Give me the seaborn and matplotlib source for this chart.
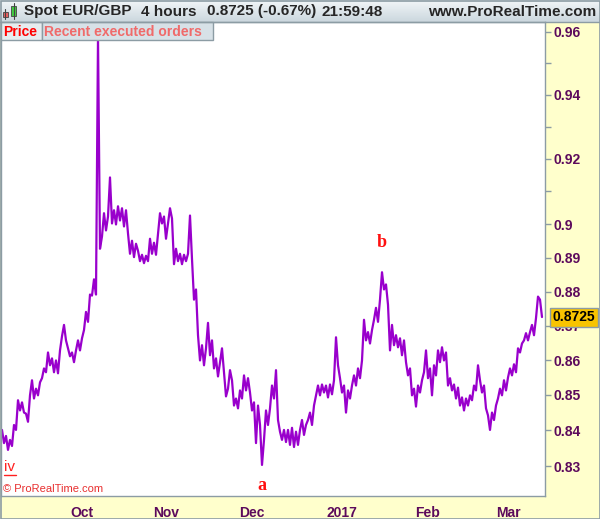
import numpy as np
import pandas as pd
import matplotlib
matplotlib.use("Agg")
import matplotlib.pyplot as plt
from matplotlib.patches import Rectangle
from matplotlib.colors import LinearSegmentedColormap
from matplotlib.ticker import FixedLocator, FixedFormatter, NullFormatter
import seaborn as sns

# ---- data: EUR/GBP 4h, sampled every half trading day (alternating highs / lows) ----
prices = [
    0.8401, 0.8364, 0.8384, 0.8345, 0.8373, 0.8356, 0.8415, 0.8401, 0.8485, 0.8456,
    0.8479, 0.8450, 0.8447, 0.8424, 0.8499, 0.8542, 0.8490, 0.8518, 0.8499, 0.8536,
    0.8548, 0.8576, 0.8565, 0.8622, 0.8585, 0.8605, 0.8565, 0.8599, 0.8562, 0.8628,
    0.8669, 0.8702, 0.8657, 0.8634, 0.8611, 0.8622, 0.8594, 0.8628, 0.8657, 0.8628,
    0.8663, 0.8687, 0.8740, 0.8711, 0.8791, 0.8788, 0.8836, 0.8791, 0.9583, 0.8927,
    0.8964, 0.9034, 0.8982, 0.9024, 0.9143, 0.9003, 0.9043, 0.9000, 0.9055, 0.9012,
    0.9049, 0.8994, 0.9043, 0.8973, 0.8912, 0.8951, 0.8902, 0.8942, 0.8921, 0.8890,
    0.8909, 0.8884, 0.8906, 0.8890, 0.8957, 0.8912, 0.8945, 0.8909, 0.8973, 0.9034,
    0.9003, 0.9024, 0.8957, 0.9003, 0.9049, 0.9018, 0.8881, 0.8927, 0.8890, 0.8912,
    0.8881, 0.8909, 0.8890, 0.8912, 0.9027, 0.8896, 0.8776, 0.8806, 0.8672, 0.8599,
    0.8643, 0.8585, 0.8634, 0.8708, 0.8614, 0.8657, 0.8576, 0.8605, 0.8553, 0.8594,
    0.8634, 0.8565, 0.8496, 0.8518, 0.8571, 0.8542, 0.8470, 0.8490, 0.8462, 0.8513,
    0.8490, 0.8556, 0.8513, 0.8548, 0.8507, 0.8456, 0.8479, 0.8364, 0.8470, 0.8415,
    0.8303, 0.8373, 0.8456, 0.8415, 0.8462, 0.8527, 0.8490, 0.8571, 0.8429, 0.8396,
    0.8373, 0.8401, 0.8367, 0.8401, 0.8359, 0.8407, 0.8353, 0.8396, 0.8359, 0.8401,
    0.8429, 0.8387, 0.8415, 0.8429, 0.8450, 0.8415, 0.8470, 0.8499, 0.8527, 0.8499,
    0.8530, 0.8507, 0.8527, 0.8493, 0.8530, 0.8502, 0.8542, 0.8666, 0.8585, 0.8548,
    0.8507, 0.8527, 0.8450, 0.8513, 0.8490, 0.8527, 0.8556, 0.8527, 0.8576, 0.8548,
    0.8599, 0.8717, 0.8657, 0.8681, 0.8648, 0.8687, 0.8717, 0.8752, 0.8711, 0.8776,
    0.8857, 0.8806, 0.8821, 0.8761, 0.8628, 0.8702, 0.8643, 0.8672, 0.8637, 0.8663,
    0.8614, 0.8657, 0.8594, 0.8556, 0.8576, 0.8499, 0.8518, 0.8467, 0.8527, 0.8507,
    0.8542, 0.8565, 0.8628, 0.8548, 0.8576, 0.8499, 0.8585, 0.8556, 0.8628, 0.8594,
    0.8637, 0.8599, 0.8622, 0.8527, 0.8548, 0.8513, 0.8530, 0.8490, 0.8521, 0.8470,
    0.8493, 0.8456, 0.8490, 0.8470, 0.8499, 0.8485, 0.8527, 0.8513, 0.8585, 0.8542,
    0.8507, 0.8527, 0.8462, 0.8442, 0.8401, 0.8450, 0.8429, 0.8470, 0.8490, 0.8518,
    0.8499, 0.8542, 0.8513, 0.8550, 0.8576, 0.8556, 0.8588, 0.8565, 0.8634, 0.8622,
    0.8648, 0.8657, 0.8678, 0.8657, 0.8681, 0.8702, 0.8672, 0.8722, 0.8785, 0.8776,
    0.8725,
]
month_pos = [40, 82, 125, 170, 213, 253]
month_labels = ["Oct", "Nov", "Dec", "2017", "Feb", "Mar"]
ytick_vals = [0.83, 0.84, 0.85, 0.86, 0.87, 0.88, 0.89, 0.9, 0.92, 0.94, 0.96]
ytick_labels = ["0.83", "0.84", "0.85", "0.86", "0.87", "0.88", "0.89", "0.9", "0.92", "0.94", "0.96"]
yminor_vals = [0.91, 0.93, 0.95]
last_price = 0.8725
wave_labels = ["a", "b"]
wave_x = [130, 190]
wave_y = [0.8247, 0.8947]

df = pd.DataFrame({"bar": np.arange(len(prices)), "price": prices})

# ---- style ----
sns.set_style("white")
plt.rcParams["font.family"] = ["Liberation Sans", "DejaVu Sans"]

W, H = 600, 519
PURPLE = "#9900CC"
GREY = "#8C9CA4"
TXT = "#5C0A5C"

fig = plt.figure(figsize=(W / 100, H / 100), dpi=100)
fig.patch.set_facecolor("#FFFFCC")

# header bar with gradient
ax_head = fig.add_axes([0, 1 - 22 / H, 1, 22 / H], zorder=1)
cmap_head = LinearSegmentedColormap.from_list("head", ["#F2F6F8", "#CBD7DE"])
ax_head.imshow(np.linspace(0, 1, 50).reshape(-1, 1), aspect="auto", cmap=cmap_head,
               extent=[0, 1, 0, 1])
ax_head.set_axis_off()

# main price panel
ax = fig.add_axes([1 / W, 23 / H, 544 / W, 474 / H], zorder=2)
ax.set_facecolor("white")
sns.lineplot(data=df, x="bar", y="price", ax=ax, color=PURPLE, linewidth=1.6)
ax.set_yscale("log")
ax.set_xlim(-0.5, len(prices) + 0.5)
ax.set_ylim(0.8217, 0.9632)
ax.set_xlabel("")
ax.set_ylabel("")

ax.yaxis.tick_right()
ax.yaxis.set_major_locator(FixedLocator(ytick_vals))
ax.yaxis.set_major_formatter(FixedFormatter(ytick_labels))
ax.yaxis.set_minor_locator(FixedLocator(yminor_vals))
ax.yaxis.set_minor_formatter(NullFormatter())
ax.tick_params(axis="y", which="both", right=True, left=False, length=4, width=1,
               color=GREY, pad=2, labelsize=10, labelcolor=TXT)
ax.set_xticks(month_pos)
ax.set_xticklabels(month_labels)
ax.tick_params(axis="x", length=3, width=1, color=GREY, pad=4, labelsize=10, labelcolor=TXT)
for lab in ax.get_xticklabels() + ax.get_yticklabels():
    lab.set_fontweight("bold")
for sp in ax.spines.values():
    sp.set_color(GREY)
    sp.set_linewidth(1)

# wave labels
for lab, xv, yv in zip(wave_labels, wave_x, wave_y):
    ax.text(xv, yv, lab, color="#FF1010", fontsize=13, fontweight="bold",
            family=["Liberation Serif", "DejaVu Serif"], ha="center", va="center")
ax.text(0.003, 0.015, "\u00a9 ProRealTime.com", transform=ax.transAxes, color="#E83030",
        fontsize=8, ha="left", va="center")

# last price box
ax.text(1.0147, last_price, f"{last_price:.4f}", transform=ax.get_yaxis_transform(),
        fontsize=10, fontweight="bold", color="black", ha="left", va="center", zorder=10,
        clip_on=False,
        bbox=dict(boxstyle="square,pad=0.18", facecolor="#F8C400", edgecolor=GREY, lw=1))

# overlay in pixel coordinates for header, tabs and frame
ov = fig.add_axes([0, 0, 1, 1], zorder=5)
ov.set_xlim(0, W)
ov.set_ylim(H, 0)
ov.set_axis_off()
ov.patch.set_alpha(0)

ov.plot([0, W], [22, 22], color=GREY, lw=1)
ov.add_patch(Rectangle((0.5, 0.5), W - 1, H - 1, fill=False, edgecolor=GREY, lw=1.2))

# "iv" wave label with underline
ov.text(4, 467, "iv", color="#FF2020", fontsize=11, ha="left", va="center")
ov.plot([4, 16], [475, 475], color="#FF2020", lw=1)

# candle icon
ov.plot([5, 5], [9, 19], color="#444444", lw=0.8)
ov.add_patch(Rectangle((3, 12), 5, 5, facecolor="#E86060", edgecolor="#444444", lw=0.6))
ov.plot([13.5, 13.5], [3, 19], color="#444444", lw=0.8)
ov.add_patch(Rectangle((11, 6), 5, 10, facecolor="#40CC40", edgecolor="#444444", lw=0.6))

head_y = 11.5
ov.text(24, head_y, "Spot EUR/GBP", fontsize=11, fontweight="bold", va="center")
ov.text(141, head_y, "4 hours", fontsize=11, fontweight="bold", va="center")
ov.text(207, head_y, "0.8725 (-0.67%)", fontsize=11, fontweight="bold", va="center")
ov.text(322, head_y, "21:59:48", fontsize=11, fontweight="bold", va="center")
ov.text(596, head_y, "www.ProRealTime.com", fontsize=11, fontweight="bold", va="center",
        ha="right")

# tabs
ov.add_patch(Rectangle((0.5, 22), 41, 18, facecolor="#E6ECEF", edgecolor=GREY, lw=1))
ov.add_patch(Rectangle((41.5, 22), 171, 18, facecolor="#D7E1E7", edgecolor=GREY, lw=1))
ov.text(3, 31.5, "Price", color="#FF0000", fontsize=10, fontweight="bold", va="center")
ov.text(44, 31.5, "Recent executed orders", color="#F06A6A", fontsize=10,
        fontweight="bold", va="center")

fig.savefig("out.png", dpi=100, facecolor=fig.get_facecolor())
